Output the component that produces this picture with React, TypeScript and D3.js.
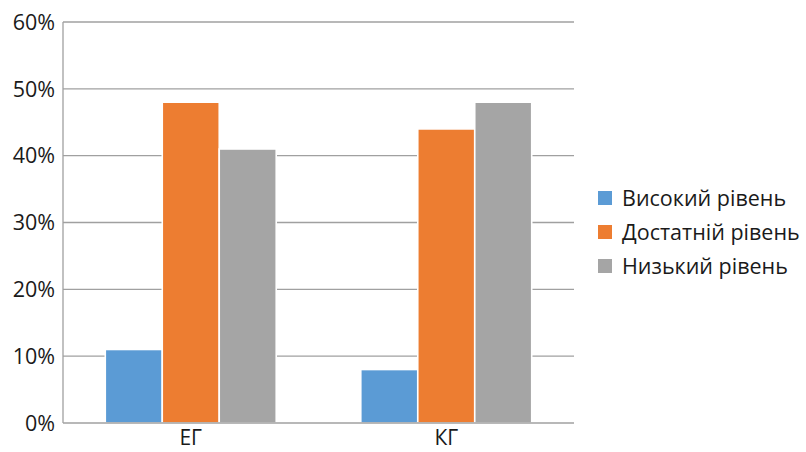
import React from "react";
import * as d3 from "d3";

const categories = ["ЕГ", "КГ"];
const seriesNames = ["Високий рівень", "Достатній рівень", "Низький рівень"];
const seriesColors = ["#5B9BD5", "#ED7D31", "#A5A5A5"];
const valuesHigh = [11, 8];
const valuesSufficient = [48, 44];
const valuesLow = [41, 48];
const yTicks = [0, 10, 20, 30, 40, 50, 60];

const seriesValues = [valuesHigh, valuesSufficient, valuesLow];

export default function App() {
  const W = 806, H = 452;
  const left = 63, right = 574, top = 22, bottom = 423;
  const font = "'Open Sans', 'Noto Sans', sans-serif";

  const x0 = d3.scaleBand<string>().domain(categories).range([left, right]).paddingInner(0.331).paddingOuter(0.1655);
  const x1 = d3.scaleBand<string>().domain(seriesNames).range([0, x0.bandwidth()]);
  const y = d3.scaleLinear().domain([0, 60]).range([bottom, top]);

  return (
    <svg width={W} height={H} style={{ position: "absolute", left: 0, top: 0 }}>
      <rect width={W} height={H} fill="#fff" />
      {yTicks.map((t) => (
        <g key={t}>
          {t > 0 && (
            <line x1={left} x2={right} y1={y(t)} y2={y(t)} stroke="#A0A0A0" strokeWidth={1.3} />
          )}
          <text x={55} y={y(t)} dy="0.36em" textAnchor="end" fontFamily={font} fontSize={21.5} fill="#1a1a1a">
            {t}%
          </text>
        </g>
      ))}
      <line x1={left} x2={left} y1={top} y2={bottom} stroke="#A0A0A0" strokeWidth={1.3} />
      {categories.map((c, ci) => (
        <g key={c}>
          {seriesNames.map((s, si) => {
            const v = seriesValues[si][ci];
            const bx = (x0(c) as number) + (x1(s) as number);
            return (
              <rect
                key={s}
                x={bx}
                y={y(v)}
                width={x1.bandwidth()}
                height={bottom - y(v)}
                fill={seriesColors[si]}
                stroke="#fff"
                strokeWidth={1.6}
              />
            );
          })}
          <text x={(x0(c) as number) + x0.bandwidth() / 2} y={445} textAnchor="middle" fontFamily={font} fontSize={21} fill="#1a1a1a">
            {c}
          </text>
        </g>
      ))}
      <line x1={left} x2={right} y1={bottom} y2={bottom} stroke="#A0A0A0" strokeWidth={1.3} />
      {seriesNames.map((s, i) => (
        <g key={s} transform={`translate(598, ${191 + i * 34})`}>
          <rect x={0} y={0} width={14} height={14} fill={seriesColors[i]} />
          <text x={24} y={7} dy="0.36em" fontFamily={font} fontSize={21.5} fill="#1a1a1a">
            {s}
          </text>
        </g>
      ))}
    </svg>
  );
}
